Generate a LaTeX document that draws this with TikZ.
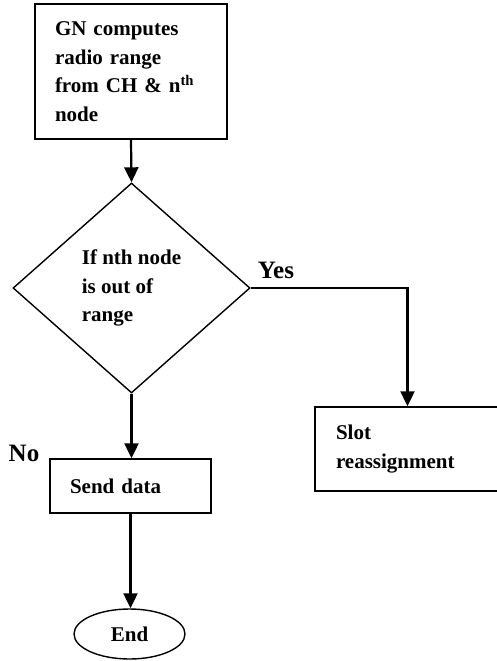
\documentclass[tikz,border=0pt]{standalone}
\usepackage{fontspec}
\setmainfont{Liberation Serif}
\usetikzlibrary{shapes.geometric,arrows.meta}
\begin{document}
\begin{tikzpicture}[x=1pt,y=-1pt,
  every node/.style={font=\bfseries\fontsize{21}{28.5}\selectfont},
  procbox/.style={draw,line width=1.4pt,inner sep=0pt,align=left},
  decbox/.style={draw,diamond,line width=1.4pt,inner sep=0pt,minimum width=237pt,minimum height=210pt,align=left},
  termbox/.style={draw,ellipse,line width=1.4pt,inner sep=0pt,minimum width=111pt,minimum height=50pt},
  lbl/.style={font=\bfseries\fontsize{25}{30}\selectfont,inner sep=0pt},
  flow/.style={line width=2.2pt,-{Triangle[width=14pt,length=15pt]}}]
\useasboundingbox (0,0) rectangle (496,661);
\node[procbox,minimum width=192pt,minimum height=135pt,text width=152pt] (gn) at (131,71.5)
  {GN computes\\radio range\\from CH \& n\textsuperscript{th}\\node};
\node[decbox] (dec) at (131.5,288) {If nth node\\is out of\\range};
\node[procbox,minimum width=161pt,minimum height=54pt,text width=121pt] (send) at (130.5,486) {Send data};
\node[procbox,minimum width=185pt,minimum height=84pt,text width=143pt] (slot) at (407.5,449) {Slot\\reassignment};
\node[termbox] (end) at (129.5,634) {End};
\node[lbl] (yes) at (276,270) {Yes};
\node[lbl] (no) at (24,453) {No};
\draw[flow] (gn.south) -- (dec.north);
\draw[flow] (dec.east) -| (slot.north);
\draw[flow] (dec.south) -- (dec.south |- send.north);
\draw[flow] (send.south) -- (send.south |- end.north);
\end{tikzpicture}
\end{document}
